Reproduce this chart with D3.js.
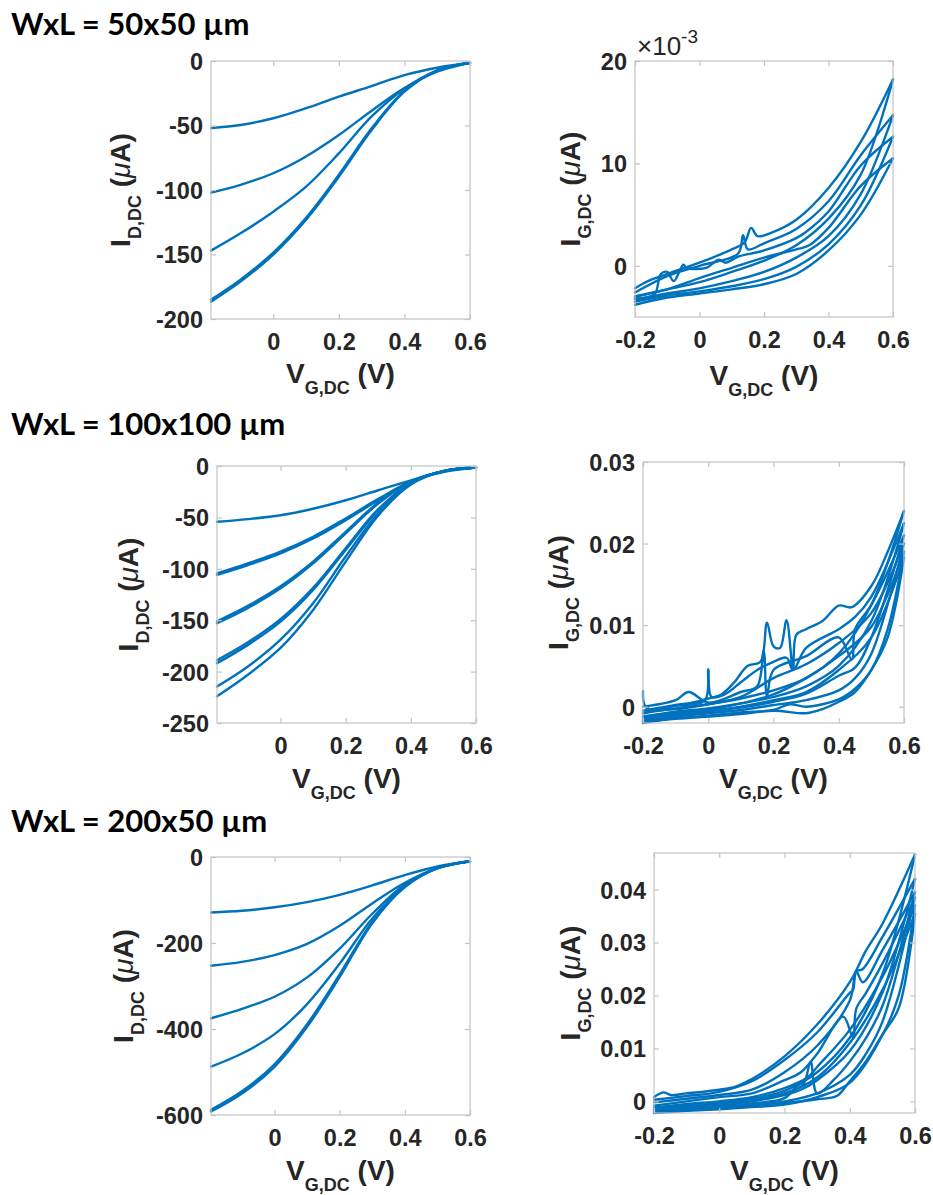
<!DOCTYPE html>
<html><head><meta charset="utf-8">
<script src="https://cdn.jsdelivr.net/npm/d3@7"></script>
<style>body{margin:0;background:#fff}</style></head>
<body><script>
// ---------------- DATA ----------------
const titles = ["WxL = 50x50 µm", "WxL = 100x100 µm", "WxL = 200x50 µm"];

// Drain current I_D,DC (µA) vs V_G,DC (V)
const vgID50 = [-0.19, -0.1, 0, 0.1, 0.2, 0.3, 0.4, 0.5, 0.6];
const id50 = [
  [-52, -49.6, -44.4, -36.6, -27.6, -19.4, -10.9, -5.2, -1.4],
  [-102, -96, -87, -74, -57.4, -38.5, -21, -8.3, -1.4],
  [-147, -133.6, -116.8, -97.4, -71.6, -43, -21.5, -7.5, -1.4],
  [-186.6, -171, -150, -123, -89.7, -53.5, -23.8, -7.5, -1.4],
  [-185, -169.5, -148.5, -121.5, -88.2, -52.2, -23.2, -7.3, -1.4]
];
const vgID100 = [-0.195, -0.1, 0, 0.1, 0.2, 0.3, 0.4, 0.5, 0.6];
const id100 = [
  [-54.3, -51.7, -47.9, -41.6, -33.3, -23.6, -13.9, -5.8, -1.5],
  [-106, -96.4, -85, -70.5, -52.7, -33.3, -15.5, -5, -1.5],
  [-104.5, -94.8, -83.3, -68.8, -51, -32, -15, -5, -1.5],
  [-153, -138, -119, -94.7, -65.6, -36.5, -15.5, -5, -1.5],
  [-151, -136, -117, -93, -64, -35.5, -15, -5, -1.5],
  [-191.8, -174, -151.4, -120.6, -81.8, -43, -17, -5, -1.5],
  [-189, -171.5, -149, -118.5, -80, -42, -16.5, -5, -1.5],
  [-214.5, -195, -169, -133.5, -88, -46, -17.5, -5, -1.5],
  [-224, -203, -177, -140, -93, -48, -18, -5, -1.5]
];
const vgID200 = [-0.195, -0.1, 0, 0.1, 0.2, 0.3, 0.4, 0.5, 0.6];
const id200 = [
  [-129, -125, -117, -105, -88, -66, -42, -22, -10],
  [-253, -244, -228, -202, -160, -108, -60, -26, -10],
  [-375, -353, -325, -280, -213, -132, -64, -26, -10],
  [-487.5, -457, -412, -342, -248, -143, -68, -26, -10],
  [-592, -550, -488, -395, -279, -154, -70, -26, -10],
  [-588, -545, -482, -389, -273, -151, -69, -26, -10]
];

// Gate current I_G,DC (µA) vs V_G,DC (V): sweep branches as [V, I] pairs
// 50x50 values are in units of 1e-3 µA (axis multiplier ×10^-3)
const ig50 = [
  [[-0.2,-3.0],[-0.1,-2.3],[0,-1.6],[0.1,-0.6],[0.2,0.5],[0.3,2.0],[0.4,4.6],[0.5,8.9],[0.6,18.2]],
  [[0.6,18.2],[0.5,12.1],[0.4,7.6],[0.3,4.5],[0.22,3.2],[0.18,2.9],[0.16,3.7],[0.14,2.3],[0.1,1.6],[0,0.3],[-0.1,-0.8],[-0.16,-1.5],[-0.2,-2.2]],
  [[-0.2,-3.3],[-0.1,-2.7],[0,-2.2],[0.1,-1.5],[0.2,-0.6],[0.3,0.8],[0.4,2.9],[0.5,7.0],[0.6,14.7]],
  [[0.6,14.7],[0.5,10.8],[0.4,6.3],[0.3,3.6],[0.2,2.2],[0.15,1.6],[0.135,3.0],[0.12,1.2],[0,0.0],[-0.1,-1.0],[-0.2,-2.6]],
  [[-0.2,-3.5],[-0.1,-2.9],[0,-2.5],[0.1,-2.0],[0.2,-1.3],[0.3,-0.1],[0.4,2.1],[0.5,5.9],[0.6,12.6]],
  [[0.6,12.6],[0.5,9.8],[0.4,5.3],[0.33,3.3],[0.3,2.7],[0.2,1.5],[0.12,0.9],[0.08,0.3],[0.06,0.6],[0.02,-0.2],[-0.04,-0.2],[-0.05,0.1],[-0.08,-1.5],[-0.1,-0.6],[-0.12,-0.8],[-0.14,-2.8],[-0.2,-3.2]],
  [[-0.2,-3.8],[-0.1,-3.1],[0,-2.7],[0.1,-2.3],[0.2,-1.8],[0.3,-0.8],[0.4,1.5],[0.5,5.0],[0.6,10.5]],
  [[0.6,10.5],[0.5,7.8],[0.4,3.7],[0.34,2.0],[0.3,1.6],[0.2,0.8],[0.1,-0.2],[0,-1.2],[-0.1,-2.3],[-0.2,-3.0]]
];
const ig100 = [
  [[-0.2,-0.0008],[-0.1,-0.0002],[0,0.0003],[0.1,0.001],[0.2,0.002],[0.3,0.0035],[0.4,0.0065],[0.5,0.0125],[0.6,0.024]],
  [[0.6,0.024],[0.55,0.019],[0.5,0.0148],[0.44,0.0122],[0.4,0.0124],[0.35,0.0105],[0.3,0.0095],[0.27,0.0088],[0.26,0.0045],[0.24,0.0106],[0.22,0.0072],[0.2,0.0074],[0.18,0.0103],[0.16,0.0055],[0.12,0.005],[0.08,0.003],[0.04,0.0015],[0,0.001],[-0.05,0.0005],[-0.1,0.0002],[-0.2,-0.0005]],
  [[-0.2,-0.0012],[-0.1,-0.0006],[0,-0.0002],[0.1,0.0004],[0.2,0.0012],[0.3,0.0025],[0.4,0.005],[0.5,0.0105],[0.6,0.0225]],
  [[0.6,0.0225],[0.5,0.0135],[0.45,0.011],[0.4,0.0095],[0.3,0.0072],[0.26,0.0045],[0.24,0.006],[0.2,0.0055],[0.15,0.0045],[0.1,0.003],[0.05,0.0015],[0.01,0.0012],[0,0.0046],[-0.01,0.0008],[-0.1,0.0001],[-0.2,-0.0008]],
  [[-0.2,-0.0015],[-0.1,-0.0009],[0,-0.0005],[0.1,-0.0001],[0.2,0.0006],[0.3,0.0016],[0.4,0.0038],[0.45,0.0048],[0.5,0.0085],[0.6,0.021]],
  [[0.6,0.021],[0.5,0.0125],[0.45,0.0095],[0.44,0.0058],[0.4,0.0085],[0.3,0.0062],[0.2,0.0045],[0.18,0.0013],[0.17,0.0068],[0.15,0.0025],[0.1,0.0018],[0,0.0005],[-0.06,0.0018],[-0.1,0.0008],[-0.2,0.0]],
  [[-0.2,-0.0018],[-0.1,-0.0012],[0,-0.0008],[0.1,-0.0004],[0.2,0.0002],[0.3,0.0008],[0.4,0.002],[0.45,0.0035],[0.5,0.0065],[0.6,0.02]],
  [[0.6,0.02],[0.5,0.0115],[0.4,0.0078],[0.3,0.0052],[0.2,0.0035],[0.1,0.0012],[0,0.0003],[-0.1,-0.0003],[-0.19,-0.0001],[-0.2,0.0019]],
  [[-0.2,-0.002],[-0.1,-0.0014],[0,-0.0011],[0.1,-0.0007],[0.2,-0.0004],[0.25,0.0003],[0.3,0.0],[0.4,0.0009],[0.45,0.0022],[0.5,0.0045],[0.55,0.0095],[0.6,0.019]],
  [[0.6,0.019],[0.5,0.0098],[0.4,0.0062],[0.3,0.0035],[0.2,0.0015],[0.1,0.0004],[0,-0.0004],[-0.1,-0.0008],[-0.2,-0.0013]],
  [[-0.2,-0.0019],[-0.1,-0.0015],[0,-0.0012],[0.1,-0.0009],[0.2,-0.0005],[0.3,-0.0008],[0.35,-0.0003],[0.4,0.0006],[0.45,0.0018],[0.5,0.0045],[0.55,0.0085],[0.6,0.0183]],
  [[0.6,0.0183],[0.5,0.0085],[0.4,0.0045],[0.3,0.0018],[0.2,0.0008],[0.1,0.0],[0,-0.0006],[-0.1,-0.001],[-0.2,-0.0017]]
];
const ig200 = [
  [[-0.2,-0.0012],[-0.1,-0.0008],[0,-0.0004],[0.1,0.0005],[0.2,0.002],[0.3,0.0055],[0.4,0.012],[0.5,0.024],[0.6,0.0466]],
  [[0.6,0.0466],[0.5,0.0335],[0.45,0.0285],[0.4,0.0225],[0.3,0.0145],[0.2,0.0085],[0.1,0.0042],[0.05,0.0028],[0,0.0022],[-0.1,0.0015],[-0.15,0.0012],[-0.17,0.0017],[-0.2,0.0008]],
  [[-0.2,-0.0016],[-0.1,-0.0012],[0,-0.0008],[0.1,0.0],[0.2,0.0012],[0.25,0.0022],[0.3,0.004],[0.4,0.0095],[0.5,0.0205],[0.6,0.042]],
  [[0.6,0.042],[0.5,0.031],[0.44,0.025],[0.42,0.0245],[0.41,0.021],[0.4,0.0205],[0.3,0.013],[0.2,0.0078],[0.1,0.0038],[0,0.0018],[-0.1,0.001],[-0.2,0.0003]],
  [[-0.2,-0.0018],[-0.1,-0.0014],[0,-0.0011],[0.1,-0.0004],[0.2,0.0006],[0.24,0.003],[0.26,0.0035],[0.28,0.0075],[0.3,0.0015],[0.35,0.004],[0.4,0.0075],[0.45,0.012],[0.5,0.018],[0.6,0.0395]],
  [[0.6,0.0395],[0.5,0.0285],[0.44,0.0225],[0.42,0.0245],[0.4,0.019],[0.3,0.0105],[0.2,0.0055],[0.1,0.0022],[0,0.0012],[-0.1,0.0005],[-0.2,-0.0002]],
  [[-0.2,-0.002],[-0.1,-0.0016],[0,-0.0013],[0.1,-0.0008],[0.2,0.0],[0.3,0.0015],[0.4,0.005],[0.45,0.009],[0.5,0.015],[0.6,0.0385]],
  [[0.6,0.0385],[0.5,0.026],[0.45,0.0205],[0.42,0.0175],[0.41,0.012],[0.38,0.016],[0.3,0.009],[0.25,0.0055],[0.2,0.004],[0.1,0.0015],[0,0.0008],[-0.1,0.0],[-0.2,-0.0008]],
  [[-0.2,-0.0022],[-0.1,-0.0018],[0,-0.0015],[0.1,-0.0011],[0.2,-0.0006],[0.3,0.0008],[0.4,0.0035],[0.5,0.0125],[0.55,0.02],[0.6,0.037]],
  [[0.6,0.037],[0.5,0.0235],[0.4,0.0135],[0.3,0.0065],[0.27,0.0045],[0.2,0.0025],[0.1,0.0008],[0,0.0],[-0.1,-0.0005],[-0.2,-0.0012]],
  [[-0.2,-0.0021],[-0.1,-0.0017],[0,-0.0009],[0.1,-0.0006],[0.2,-0.0003],[0.3,0.0004],[0.36,0.001],[0.4,0.0038],[0.45,0.0076],[0.5,0.0126],[0.55,0.0176],[0.6,0.0354]],
  [[0.6,0.0354],[0.5,0.021],[0.4,0.011],[0.3,0.0045],[0.2,0.0015],[0.1,0.0003],[0,-0.0004],[-0.1,-0.0009],[-0.2,-0.0016]]
];

// Tick values
const xTicksID = [0, 0.2, 0.4, 0.6];
const xTicksIG = [-0.2, 0, 0.2, 0.4, 0.6];
const yTicks50D = [-200, -150, -100, -50, 0];
const yTicks100D = [-250, -200, -150, -100, -50, 0];
const yTicks200D = [-600, -400, -200, 0];
const yTicks50G = [0, 10, 20];
const yTicks100G = [0, 0.01, 0.02, 0.03];
const yTicks200G = [0, 0.01, 0.02, 0.03, 0.04];

// ---------------- LAYOUT ----------------
const BLUE = "#0072BD", TXT = "#262626", GRID = "#c4c4c4";
const FONT = "'Liberation Sans', Arial, Helvetica, sans-serif";

const svg = d3.select("body").append("svg").attr("width", 933).attr("height", 1195)
  .style("background", "#fff");

const smooth = d3.curveCatmullRom.alpha(0.5);
const panels = [
  {box:[211,470,61,319], xd:[-0.19,0.6], yd:[-200,0], xt:xTicksID, yt:yTicks50D, sub:"D,DC", ylx:81, xly:64,
   series: id50.map(s => s.map((v,i)=>[vgID50[i], v])), curve: smooth},
  {box:[635,893,61,317], xd:[-0.2,0.6], yd:[-5,20], xt:xTicksIG, yt:yTicks50G, sub:"G,DC", ylx:55, xly:68,
   series: ig50, curve: smooth, exp:true},
  {box:[217,476,466,723], xd:[-0.195,0.6], yd:[-250,0], xt:xTicksID, yt:yTicks100D, sub:"D,DC", ylx:79, xly:65,
   series: id100.map(s => s.map((v,i)=>[vgID100[i], v])), curve: smooth},
  {box:[643,904,462,723], xd:[-0.2,0.6], yd:[-0.002,0.03], xt:xTicksIG, yt:yTicks100G, sub:"G,DC", ylx:75, xly:65,
   series: ig100, curve: smooth},
  {box:[211,470,857,1115], xd:[-0.195,0.6], yd:[-600,0], xt:xTicksID, yt:yTicks200D, sub:"D,DC", ylx:78, xly:65,
   series: id200.map(s => s.map((v,i)=>[vgID200[i], v])), curve: smooth},
  {box:[654,915,853,1113], xd:[-0.2,0.6], yd:[-0.0022,0.0469], xt:xTicksIG, yt:yTicks200G, sub:"G,DC", ylx:74, xly:67,
   series: ig200, curve: smooth}
];

const titleY = [35, 435, 832];
titles.forEach((t,i) => {
  svg.append("text").attr("x", 11).attr("y", titleY[i]).text(t)
    .attr("font-family", "Lato, 'Open Sans', sans-serif").attr("font-weight", 700)
    .attr("font-size", 31).attr("fill", "#000");
});

const fmt = d => String(d);

panels.forEach(p => {
  const [l, r, t, b] = p.box;
  const x = d3.scaleLinear().domain(p.xd).range([l, r]);
  const y = d3.scaleLinear().domain(p.yd).range([b, t]);
  const g = svg.append("g");

  // lines
  const line = d3.line().x(d => x(d[0])).y(d => y(d[1])).curve(p.curve);
  g.append("g").selectAll("path").data(p.series).join("path")
    .attr("d", line).attr("fill", "none").attr("stroke", BLUE)
    .attr("stroke-width", 2.4).attr("stroke-linejoin", "round").attr("stroke-linecap", "round");

  // axes (MATLAB style box with inward ticks)
  const styleAxis = sel => {
    sel.select(".domain").remove();
    sel.selectAll(".tick line").attr("stroke", GRID).attr("stroke-width", 1.2);
    sel.selectAll("text").attr("font-family", FONT).attr("font-weight", 700)
      .attr("font-size", 23.5).attr("fill", TXT);
  };
  const ab = g.append("g").attr("transform", `translate(0,${b})`)
    .call(d3.axisBottom(x).tickValues(p.xt).tickSizeInner(-5).tickSizeOuter(0).tickFormat(fmt)).call(styleAxis);
  ab.selectAll("text").attr("y", 23).attr("dy", "0.36em");
  g.append("g").attr("transform", `translate(0,${t})`)
    .call(d3.axisTop(x).tickValues(p.xt).tickSizeInner(-5).tickSizeOuter(0).tickFormat("")).call(styleAxis);
  const al = g.append("g").attr("transform", `translate(${l},0)`)
    .call(d3.axisLeft(y).tickValues(p.yt).tickSizeInner(-5).tickSizeOuter(0).tickFormat(fmt)).call(styleAxis);
  al.selectAll("text").attr("x", -8).attr("dy", "0.36em");
  g.append("g").attr("transform", `translate(${r},0)`)
    .call(d3.axisRight(y).tickValues(p.yt).tickSizeInner(-5).tickSizeOuter(0).tickFormat("")).call(styleAxis);

  g.append("rect").attr("x", l).attr("y", t).attr("width", r - l).attr("height", b - t)
    .attr("fill", "none").attr("stroke", GRID).attr("stroke-width", 1.2);

  // x label
  const xl = g.append("text").attr("x", (l + r) / 2).attr("y", b + p.xly)
    .attr("text-anchor", "middle").attr("font-family", FONT).attr("font-weight", 700)
    .attr("font-size", 28).attr("fill", TXT);
  xl.append("tspan").text("V");
  xl.append("tspan").attr("font-size", 18).attr("dy", 11).text("G,DC");
  xl.append("tspan").attr("dy", -11).text(" (V)");

  // y label
  const yl = g.append("text").attr("transform", `translate(${l - p.ylx},${(t + b) / 2}) rotate(-90)`)
    .attr("text-anchor", "middle").attr("font-family", FONT).attr("font-weight", 700)
    .attr("font-size", 28).attr("fill", TXT);
  yl.append("tspan").text("I");
  yl.append("tspan").attr("font-size", 18).attr("dy", 11).text(p.sub);
  yl.append("tspan").attr("dy", -11).text(" (");
  yl.append("tspan").attr("font-style", "italic").attr("font-weight", 400).text("μ");
  yl.append("tspan").text("A)");

  if (p.exp) {
    const ex = g.append("text").attr("x", l + 2).attr("y", t - 6)
      .attr("font-family", FONT).attr("font-size", 26).attr("fill", TXT);
    ex.append("tspan").text("×10");
    ex.append("tspan").attr("font-size", 19).attr("dy", -12).text("-3");
  }
});
</script></body></html>
